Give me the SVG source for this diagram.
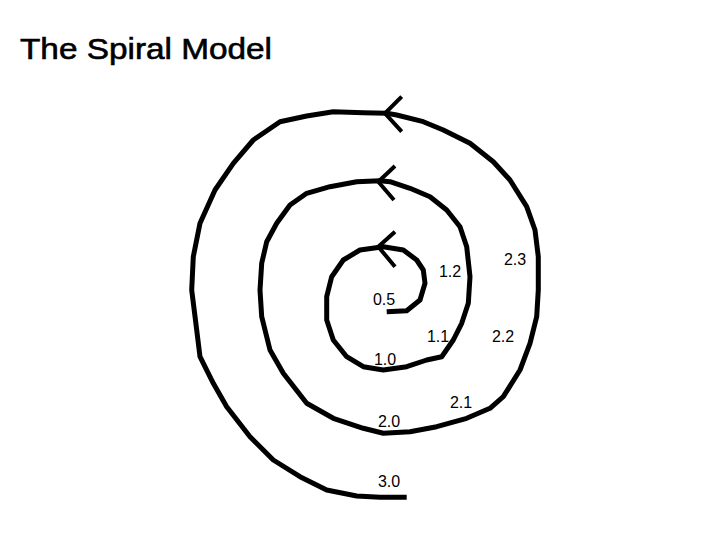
<svg xmlns="http://www.w3.org/2000/svg" width="720" height="540" viewBox="0 0 720 540">
<style>
.s{fill:none;stroke:#000;stroke-width:5;stroke-linejoin:round;stroke-linecap:butt}
.a{fill:none;stroke:#000;stroke-width:4;stroke-linecap:butt;stroke-linejoin:miter}
.l{font-family:"Liberation Sans",Arial,sans-serif;font-size:16px;fill:#000;text-anchor:middle}
.t{font-family:"Liberation Sans",Arial,sans-serif;font-size:29px;fill:#000}
</style>
<rect width="720" height="540" fill="#fff"/>
<text class="t" x="20" y="59" textLength="252" lengthAdjust="spacingAndGlyphs" stroke="#000" stroke-width="0.6">The Spiral Model</text>
<g id="spiral">
<path class="s" d="M386.7,311.7 L406.7,310.7 L420,300 L425,283.3 L423.3,270 L416.7,260 L403.3,250 L383.3,246.7 L360,250 L343.3,260 L331.7,276.7 L326.7,296.7 L326.7,320 L333.3,340 L346.7,356.7 L363.3,366.7 L383.3,370 L406.7,366.7 L426.7,360 L441.7,356.7 L453.3,340 L461.7,323.3 L468.3,303.3 L470,276.7 L466.7,246.7 L460,226.7 L446.7,210 L430,196.7 L410,188.3 L390,181.7 L380,180.7 L356.7,181.7 L330,186.7 L306.7,193.3 L290,205 L276.7,223.3 L266.7,241.7 L261.7,263.3 L260,290 L261.7,316.7 L270,350 L283.3,373.3 L306.7,403.3 L333.3,418.3 L363.3,428.3 L383.3,433.3 L410,431.7 L436.7,426.7 L466.7,418.3 L490,408.3 L503.3,396.7 L520,370 L530,343.3 L536.7,316.7 L538.3,290 L538.3,256.7 L535,230 L526.7,206.7 L510,180 L493.3,161.7 L470,143.3 L443.3,130 L423.3,121.7 L396.7,115 L386.7,113.3 L363.3,112.7 L333.3,111.7 L306.7,116 L280,121.7 L253.3,140 L233.3,163.3 L215,190 L200,223.3 L193.3,256.7 L191.7,290 L196.7,330 L200,356.7 L213.3,383.3 L226.7,406.7 L250,436.7 L273.3,460 L300,476.7 L326.7,490 L356.7,496 L380,497.3 L406.7,497.3"/>
</g>
<g id="connectors">
<polyline class="a" points="401.7,96.7 385,113.3 401.7,131.7"/>
<polyline class="a" points="395,166 378.3,181.7 394,200"/>
<polyline class="a" points="395,231.7 378.3,246.7 395,266.7"/>
</g>
<g id="labels">
<text class="l" x="515" y="265">2.3</text>
<text class="l" x="450" y="277">1.2</text>
<text class="l" x="384" y="305">0.5</text>
<text class="l" x="438" y="342">1.1</text>
<text class="l" x="503" y="342">2.2</text>
<text class="l" x="385" y="365">1.0</text>
<text class="l" x="461" y="408">2.1</text>
<text class="l" x="389" y="427">2.0</text>
<text class="l" x="389" y="487">3.0</text>
</g>
</svg>
